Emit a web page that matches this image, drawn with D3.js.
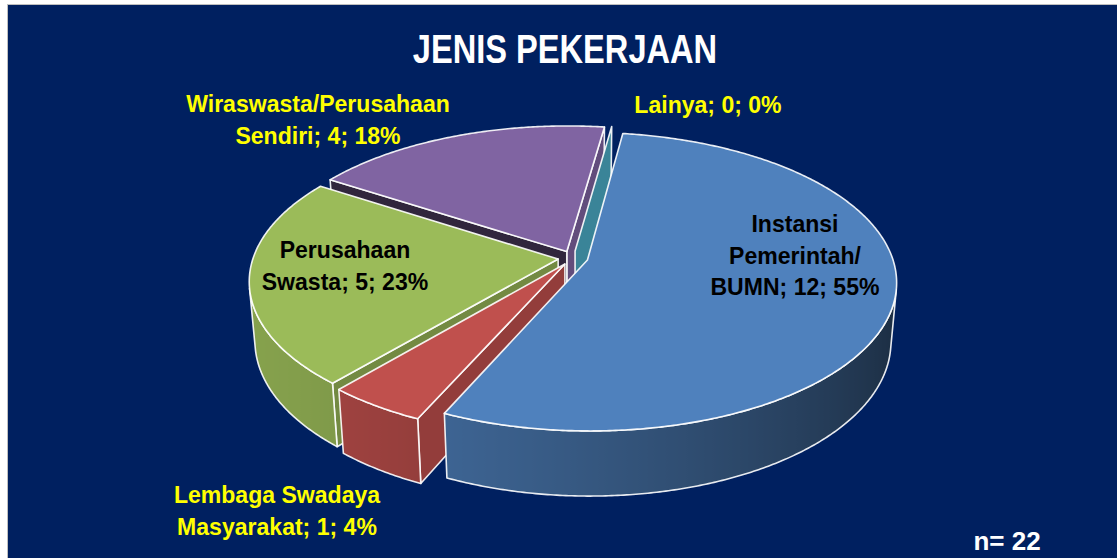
<!DOCTYPE html>
<html>
<head>
<meta charset="utf-8">
<style>
  html, body { margin: 0; padding: 0; background: #ffffff; }
  svg { display: block; }
  .lbl { font-family: "Liberation Sans", Arial, sans-serif; font-weight: bold; }
</style>
</head>
<body>
<div id="chart"></div>
<script src="https://cdn.jsdelivr.net/npm/d3@7"></script>
<script>
// data
var categories = ["Instansi Pemerintah/ BUMN", "Lembaga Swadaya Masyarakat", "Perusahaan Swasta", "Wiraswasta/Perusahaan Sendiri", "Lainya"];
var values = [12, 1, 5, 4, 0];
var percents = [55, 4, 23, 18, 0];
var labelLines = [["Instansi", "Pemerintah/", "BUMN"], ["Lembaga Swadaya", "Masyarakat"], ["Perusahaan", "Swasta"], ["Wiraswasta/Perusahaan", "Sendiri"], ["Lainya"]];
var colors = ["#4f81bd", "#c0504d", "#9bbb59", "#8064a2", "#4bacc6"];
var title = "JENIS PEKERJAAN";
var note = "n= 22";

// label placement (center x, first baseline, fill)
var labelPos = [
  { x: 795, y: 232, fill: "#000000" },
  { x: 277, y: 503, fill: "#ffff00" },
  { x: 345, y: 258, fill: "#000000" },
  { x: 318, y: 112, fill: "#ffff00" },
  { x: 708, y: 113, fill: "#ffff00" }
];

var W = 1117, H = 558;
var cx = 573, cy = 258, R = 305, depth = 68, explode = 15;
var elev = 28.5 * Math.PI / 180, D = 1850;
var sinE = Math.sin(elev), cosE = Math.cos(elev);
var startAngle = 8 * Math.PI / 180;
var cam = [0, D * sinE, D * cosE];

var project = function (x, y, z) {
  var sy = z * sinE - y * cosE;
  var dz = z * cosE + y * sinE;
  var s = D / (D - dz);
  return [cx + x * s, cy + sy * s];
};
var depthOf = function (x, y, z) { return z * cosE + y * sinE; };

var shade = function (col, f) {
  var c = d3.rgb(col);
  return d3.rgb(c.r * f, c.g * f, c.b * f).toString();
};
// wall brightness by outward normal angle, face brightness by face normal
var wallF = function (a) { return 0.58 + 0.28 * Math.cos(a - 250 * Math.PI / 180); };
var faceF = function (a) { return 0.47 + 0.3 * Math.cos(a - 105 * Math.PI / 180); };

var svg = d3.select("#chart").append("svg").attr("width", W).attr("height", H);
var defs = svg.append("defs");

svg.append("rect").attr("x", 7.5).attr("y", 4.5).attr("width", W).attr("height", H)
  .attr("fill", "#002060").attr("stroke", "#bfbfbf").attr("stroke-width", 1);

var arcs = d3.pie().sort(null).value(function (d) { return d; })
  .startAngle(startAngle).endAngle(startAngle + 2 * Math.PI)(values);

var slices = arcs.map(function (d, i) {
  var m = (d.startAngle + d.endAngle) / 2;
  return { i: i, s: d.startAngle, e: d.endAngle, sx: explode * Math.sin(m), sz: -explode * Math.cos(m), color: colors[i] };
});

var rim = function (sl, a, y) {
  return project(R * Math.sin(a) + sl.sx, y, -R * Math.cos(a) + sl.sz);
};
var angles = function (s, e) {
  var n = Math.max(1, Math.ceil((e - s) / (0.5 * Math.PI / 180)));
  return d3.range(n + 1).map(function (k) { return s + (e - s) * k / n; });
};
var line = d3.line().curve(d3.curveLinearClosed);

var faces = [], walls = [];
slices.forEach(function (sl) {
  // radial faces
  [[sl.s, sl.s - Math.PI / 2], [sl.e, sl.e + Math.PI / 2]].forEach(function (f) {
    var a = f[0], n = f[1];
    var px = R / 2 * Math.sin(a) + sl.sx, pz = -R / 2 * Math.cos(a) + sl.sz, py = -depth / 2;
    var dot = Math.sin(n) * (cam[0] - px) - Math.cos(n) * (cam[2] - pz);
    if (dot <= 0) return;
    var pts = [project(sl.sx, 0, sl.sz), rim(sl, a, 0), rim(sl, a, -depth), project(sl.sx, -depth, sl.sz)];
    faces.push({ pts: pts, ang: ((a % (2 * Math.PI)) + 2 * Math.PI) % (2 * Math.PI), dist: dot,
      fill: shade(sl.color, faceF(n)), z: depthOf(px, py, pz) });
  });
  // outer wall, front facing part only
  var vis = angles(sl.s, sl.e).filter(function (a) {
    var px = R * Math.sin(a) + sl.sx, pz = -R * Math.cos(a) + sl.sz;
    return Math.sin(a) * (cam[0] - px) - Math.cos(a) * (cam[2] - pz) > 0;
  });
  if (vis.length > 1) {
    var top = vis.map(function (a) { return rim(sl, a, 0); });
    var bot = vis.map(function (a) { return rim(sl, a, -depth); }).reverse();
    var xs = top.map(function (p) { return p[0]; });
    var x0 = d3.min(xs), x1 = d3.max(xs);
    var gid = "wall" + sl.i;
    var g = defs.append("linearGradient").attr("id", gid).attr("gradientUnits", "userSpaceOnUse")
      .attr("x1", x0).attr("x2", x1).attr("y1", 0).attr("y2", 0);
    var stops = vis.map(function (a, k) { return { o: (xs[k] - x0) / ((x1 - x0) || 1), c: shade(sl.color, wallF(a)) }; })
      .sort(function (p, q) { return p.o - q.o; });
    g.selectAll("stop").data(stops).enter().append("stop")
      .attr("offset", function (d) { return d.o; }).attr("stop-color", function (d) { return d.c; });
    var am = vis[Math.floor(vis.length / 2)];
    walls.push({ pts: top.concat(bot), fill: "url(#" + gid + ")", z: depthOf(R * Math.sin(am) + sl.sx, 0, -R * Math.cos(am) + sl.sz) });
  }
});

var pie = svg.append("g").attr("stroke", "#ffffff").attr("stroke-opacity", 0.9)
  .attr("stroke-width", 1.6).attr("stroke-linejoin", "round");

// faces on the same cut: the plane farther from the camera goes first
faces.sort(function (a, b) {
  if (Math.abs(a.ang - b.ang) < 1e-6) return b.dist - a.dist;
  return a.z - b.z;
});
walls.sort(function (a, b) { return a.z - b.z; });

pie.selectAll("path.face").data(faces).enter().append("path").attr("class", "face")
  .attr("d", function (d) { return line(d.pts); }).attr("fill", function (d) { return d.fill; });
pie.selectAll("path.wall").data(walls).enter().append("path").attr("class", "wall")
  .attr("d", function (d) { return line(d.pts); }).attr("fill", function (d) { return d.fill; });
pie.selectAll("path.top").data(slices.filter(function (d) { return d.e > d.s; })).enter().append("path").attr("class", "top")
  .attr("d", function (sl) { return line([project(sl.sx, 0, sl.sz)].concat(angles(sl.s, sl.e).map(function (a) { return rim(sl, a, 0); }))); })
  .attr("fill", function (d) { return d.color; });

// squeeze text horizontally to mimic the narrow face of the original
var narrow = function (sel, k) {
  sel.each(function () {
    var w = this.getComputedTextLength();
    d3.select(this).attr("textLength", w * k).attr("lengthAdjust", "spacingAndGlyphs");
  });
};

svg.append("text").attr("class", "lbl").attr("x", 565).attr("y", 63).attr("text-anchor", "middle")
  .attr("fill", "#ffffff").attr("font-size", 41).text(title).call(narrow, 0.795);
svg.append("text").attr("class", "lbl").attr("x", 1007).attr("y", 550).attr("text-anchor", "middle")
  .attr("fill", "#ffffff").attr("font-size", 26).text(note);

// data labels
labelLines.forEach(function (lines, i) {
  var txt = lines.slice();
  txt[txt.length - 1] = txt[txt.length - 1] + "; " + values[i] + "; " + percents[i] + "%";
  txt.forEach(function (s, k) {
    svg.append("text").attr("class", "lbl").attr("text-anchor", "middle")
      .attr("fill", labelPos[i].fill).attr("font-size", 24)
      .attr("x", labelPos[i].x).attr("y", labelPos[i].y + k * 31.5).text(s)
      .call(narrow, 0.96);
  });
});
</script>
</body>
</html>
